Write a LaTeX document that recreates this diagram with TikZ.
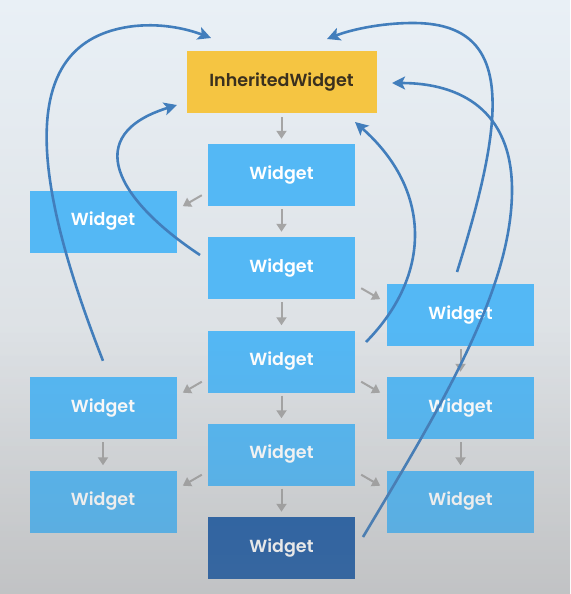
\documentclass[tikz,border=0pt]{standalone}
\usepackage{fontspec}
\setmainfont{Poppins}[BoldFont={Poppins SemiBold}]
\usepackage{tikz}
\usetikzlibrary{arrows.meta, positioning, fadings}
\usepackage{xcolor}
\definecolor{widgetblue}{RGB}{84, 184, 245}
\definecolor{widgetdark}{RGB}{36, 96, 168}
\definecolor{inheritedyellow}{RGB}{245, 197, 66}
\definecolor{inheritedtext}{RGB}{58, 48, 30}
\definecolor{widgetgray}{RGB}{165, 165, 165}
\definecolor{lookupblue}{RGB}{66, 126, 188}
\definecolor{bgtop}{RGB}{233, 240, 246}
\definecolor{bgmid}{RGB}{224, 229, 233}
\definecolor{bgbottom}{RGB}{212, 214, 216}
\tikzstyle{widget} = [rectangle, fill=widgetblue, text=white, minimum width=147pt, minimum height=62pt, inner sep=0pt, font=\fontsize{17.5}{20}\selectfont\bfseries]
\tikzstyle{arrow} = [line width=2pt, -{Triangle[length=8pt,width=10pt]}, widgetgray]
\tikzstyle{down} = [arrow, shorten <=3pt, shorten >=5pt]
\tikzstyle{lookup} = [line width=2.6pt, -{Stealth[length=13pt,width=13pt,inset=3pt]}, lookupblue]
\tikzfading[name=dimbottom, top color=transparent!100, bottom color=transparent!0]

\begin{document}
\begin{tikzpicture}[x=1pt, y=-1pt]
% Background
\shade[top color=bgtop, middle color=bgmid, bottom color=bgbottom] (0,0) rectangle (570,594);

% Widget tree
\node[widget, fill=inheritedyellow, text=inheritedtext, minimum width=190pt] (inherited) at (281.5,82) {InheritedWidget};
\node[widget] (w1) at (281.5,175) {Widget};
\node[widget] (w2) at (281.5,268) {Widget};
\node[widget] (w3) at (281.5,361.5) {Widget};
\node[widget] (w4) at (281.5,454.5) {Widget};
\node[widget, fill=widgetdark] (w5) at (281.5,548) {Widget};
\node[widget] (leftA) at (103,221.5) {Widget};
\node[widget] (leftB) at (103,408) {Widget};
\node[widget] (leftC) at (103,501.5) {Widget};
\node[widget] (rightA) at (460.5,315) {Widget};
\node[widget] (rightB) at (460.5,408) {Widget};
\node[widget] (rightC) at (460.5,501.5) {Widget};

% Parent to child
\draw[down, shorten <=4pt] (inherited) -- (w1);
\draw[down] (w1) -- (w2);
\draw[down] (w2) -- (w3);
\draw[down] (w3) -- (w4);
\draw[down] (w4) -- (w5);
\draw[down] (leftB) -- (leftC);
\draw[down] (rightA) -- (rightB);
\draw[down] (rightB) -- (rightC);
\draw[arrow] ([shift={(-6,-11)}]w1.south west) -- ++(-19,11);
\draw[arrow] ([shift={(6,-11)}]w2.south east) -- ++(19,11);
\draw[arrow] ([shift={(-6,-11)}]w3.south west) -- ++(-19,11);
\draw[arrow] ([shift={(6,-11)}]w3.south east) -- ++(19,11);
\draw[arrow] ([shift={(-6,-11)}]w4.south west) -- ++(-19,11);
\draw[arrow] ([shift={(6,-11)}]w4.south east) -- ++(19,11);

% Lookups up to the InheritedWidget
\coordinate (from-leftB) at ([yshift=16pt]leftB.north);
\coordinate (from-w2) at (200,255);
\coordinate (from-w3) at (366,342);
\coordinate (from-rightA) at (457,272);
\coordinate (from-w5) at (363,537);
\coordinate (to-leftB) at (211,38);
\coordinate (to-w2) at (177,105);
\coordinate (to-w3) at (355,122);
\coordinate (to-rightA) at (327,39);
\coordinate (to-w5) at (392,83);
\draw[lookup] (from-leftB) .. controls (40,200) and (5,40) .. (135,26) .. controls (165,23) and (190,30) .. (to-leftB);
\draw[lookup] (from-w2) .. controls (117,200) and (80,135) .. (to-w2);
\draw[lookup] (from-w3) .. controls (432,275) and (432,190) .. (to-w3);
\draw[lookup] (from-rightA) .. controls (508,110) and (513,23) .. (413,23) .. controls (380,23) and (350,30) .. (to-rightA);
\draw[lookup] (from-w5) .. controls (440,408) and (512,290) .. (512,190) .. controls (512,110) and (460,83) .. (to-w5);

% Dim the lower part
\fill[gray, fill opacity=0.22, path fading=dimbottom] (0,330) rectangle (570,594);
\end{tikzpicture}
\end{document}
